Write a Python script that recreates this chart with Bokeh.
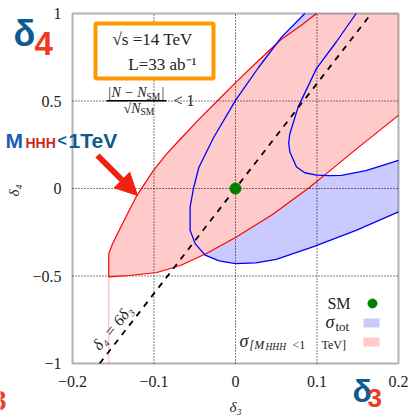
import math
from bokeh.plotting import figure
from bokeh.models import Label, BoxAnnotation, Arrow, NormalHead, Range1d, ColumnDataSource
from bokeh.core.properties import value
from bokeh.embed import file_html
from bokeh.resources import INLINE

# ---------------- data ----------------
X_MIN, X_MAX = -0.2, 0.2
Y_MIN, Y_MAX = -1.0, 1.0
x_ticks = [-0.2, -0.1, 0.0, 0.1, 0.2]
x_tick_labels = ["\u22120.2", "\u22120.1", "0", "0.1", "0.2"]
y_ticks = [-1.0, -0.5, 0.0, 0.5, 1.0]
y_tick_labels = ["\u22121", "\u22120.5", "0", "0.5", "1"]
grid_x = [-0.1, 0.0, 0.1]
grid_y = [-0.5, 0.0, 0.5]

# sigma[M_HHH < 1 TeV] band (red)
red_upper_d3 = [-0.1555, -0.1555, -0.151, -0.143, -0.132, -0.1209, -0.1006, -0.085,
                -0.0675, -0.045, -0.0224, 0.0, 0.028, 0.0555, 0.08, 0.0993]
red_upper_d4 = [-0.505, -0.372, -0.317, -0.241, -0.14, -0.039, 0.104, 0.195,
                0.283, 0.395, 0.5, 0.605, 0.73, 0.85, 0.93, 1.0]
red_lower_d3 = [-0.1555, -0.13, -0.0964, -0.0675, -0.035, 0.0, 0.045, 0.089, 0.1116, 0.15, 0.2]
red_lower_d4 = [-0.505, -0.497, -0.480, -0.44, -0.37, -0.28, -0.15, 0.0, 0.085, 0.232, 0.418]

# sigma_tot band (blue)
blue_outer_d3 = [0.085, 0.0565, 0.028, 0.0, -0.027, -0.045, -0.0516, -0.0557, -0.0557,
                 -0.0495, -0.0373, -0.02, 0.0, 0.025, 0.05, 0.095, 0.148, 0.2]
blue_outer_d4 = [1.0, 0.865, 0.69, 0.504, 0.29, 0.12, 0.0, -0.106, -0.239,
                 -0.315, -0.381, -0.414, -0.429, -0.425, -0.405, -0.334, -0.239, -0.134]
blue_inner_d3 = [0.148, 0.124, 0.0993, 0.0768, 0.0667, 0.0652, 0.0667, 0.0749, 0.085,
                 0.0993, 0.115, 0.13, 0.16, 0.2]
blue_inner_d4 = [1.0, 0.84, 0.685, 0.465, 0.313, 0.26, 0.208, 0.123, 0.09,
                 0.077, 0.073, 0.075, 0.102, 0.161]

sm_d3 = [0.0]
sm_d4 = [0.0]
line_slope = 6.0  # delta4 = 6 delta3

# ---------------- layout ----------------
W, H = 410, 417
# plot box inside the canvas (canvas pixels)
BOX_L, BOX_R, BOX_T, BOX_B = 72, 398, 13, 363
PX_PER_X = (BOX_R - BOX_L) / (X_MAX - X_MIN)
PX_PER_Y = (BOX_B - BOX_T) / (Y_MAX - Y_MIN)

x_lo = X_MIN - BOX_L / PX_PER_X
x_hi = X_MAX + (W - BOX_R) / PX_PER_X
y_hi = Y_MAX + BOX_T / PX_PER_Y
y_lo = Y_MIN - (H - BOX_B) / PX_PER_Y


def dx(xr):  # canvas pixel -> delta3
    return X_MIN + (xr - BOX_L) / PX_PER_X


def dy(yr):  # canvas pixel -> delta4
    return Y_MAX - (yr - BOX_T) / PX_PER_Y


SERIF = "Liberation Serif"
SANS = "Liberation Sans"
TXT = "#222222"

p = figure(width=W, height=H, x_range=Range1d(x_lo, x_hi), y_range=Range1d(y_lo, y_hi),
           x_axis_type=None, y_axis_type=None, output_backend="svg", toolbar_location=None,
           min_border=0)
p.background_fill_color = "white"
p.border_fill_color = "white"
p.outline_line_color = None

# fills
blue_x = blue_outer_d3 + blue_inner_d3[::-1]
blue_y = blue_outer_d4 + blue_inner_d4[::-1]
p.patch(blue_x, blue_y, fill_color="#cacaff", line_color=None)
red_x = red_upper_d3 + [X_MAX] + red_lower_d3[::-1]
red_y = red_upper_d4 + [Y_MAX] + red_lower_d4[::-1]
p.patch(red_x, red_y, fill_color="#ffcaca", line_color=None)

# dotted grid
p.segment(x0=grid_x, y0=[Y_MIN] * len(grid_x), x1=grid_x, y1=[Y_MAX] * len(grid_x),
          line_color="black", line_width=1, line_dash="1 2")
p.segment(x0=[X_MIN] * len(grid_y), y0=grid_y, x1=[X_MAX] * len(grid_y), y1=grid_y,
          line_color="black", line_width=1, line_dash="1 2")

# faint pink edge below the band
p.line([red_upper_d3[0], red_upper_d3[0]], [Y_MIN, red_upper_d4[0]], line_color="#ffb4b4",
       line_width=1)

# boundaries
p.line(red_upper_d3, red_upper_d4, line_color="#ff0000", line_width=1.2)
p.line(red_lower_d3, red_lower_d4, line_color="#ff0000", line_width=1.2)
p.line(blue_outer_d3, blue_outer_d4, line_color="#0000ff", line_width=1.3)
p.line(blue_inner_d3, blue_inner_d4, line_color="#0000ff", line_width=1.3)

# delta4 = 6 delta3
p.line([Y_MIN / line_slope, Y_MAX / line_slope], [Y_MIN, Y_MAX], line_color="black",
       line_width=1.8, line_dash="6 6")

# SM point
p.scatter(sm_d3, sm_d4, size=11, color="#008000")

# tick labels
xsrc = ColumnDataSource(dict(x=x_ticks, y=[dy(381)] * len(x_ticks), t=x_tick_labels))
p.text(x="x", y="y", text="t", source=xsrc, text_font=value(SERIF),
       text_font_size=value("16px"), text_color=TXT, text_align=value("center"),
       text_baseline=value("middle"))
ysrc = ColumnDataSource(dict(x=[dx(61)] * len(y_ticks), y=y_ticks, t=y_tick_labels))
p.text(x="x", y="y", text="t", source=ysrc, text_font=value(SERIF),
       text_font_size=value("16px"), text_color=TXT, text_align=value("right"),
       text_baseline=value("middle"))

# plot frame
p.add_layout(BoxAnnotation(left=X_MIN, right=X_MAX, bottom=Y_MIN, top=Y_MAX,
                           fill_alpha=0.0, line_color="black", line_width=2))


def lab(text, xr, yr, size, color=TXT, font=SERIF, style="normal", align="left",
        angle=0.0):
    p.add_layout(Label(x=dx(xr), y=dy(yr), text=text, text_font=font,
                       text_font_size=f"{size}px", text_font_style=style, text_color=color,
                       text_align=align, text_baseline="middle", angle=angle))


# orange info box
p.add_layout(BoxAnnotation(left=dx(95), right=dx(213), top=dy(23), bottom=dy(78),
                           fill_color="white", fill_alpha=1.0, line_color="#ff9900",
                           line_width=4, line_alpha=1.0))
lab("\u221as =14 TeV", 152, 39, 17, align="center")
lab("L=33 ab\u207b\u00b9", 162, 64, 17, align="center")

# fraction |N-N_SM|/sqrt(N_SM) < 1
lab("|N \u2212 N", 146, 92, 14, style="italic", align="right")
lab("SM", 146, 96, 9.5)
lab("|", 161, 92, 14)
p.add_layout(BoxAnnotation(left=dx(106), right=dx(166), top=dy(99.6), bottom=dy(101.0),
                           fill_color="black", fill_alpha=1.0, line_color=None))
lab("\u221aN", 140, 108, 14, style="italic", align="right")
lab("SM", 140, 111, 9.5)
lab("< 1", 173, 100, 16)

# line label
lab("\u03b4\u2084 = 6\u03b4\u2083", 112, 327, 16, style="italic", align="center",
    angle=math.radians(50))

# legend
lab("SM", 350, 302.5, 16, align="right")
p.scatter([dx(372)], [dy(303)], size=9, color="#008000")
lab("\u03c3", 334, 321, 18, style="italic", align="right")
lab("tot", 335, 325.5, 13)
p.add_layout(BoxAnnotation(left=dx(363), right=dx(379), top=dy(318), bottom=dy(327),
                           fill_color="#cacaff", fill_alpha=1.0, line_color=None))
lab("\u03c3", 248, 340, 18, style="italic", align="right")
lab("[M", 249, 344, 12, style="italic")
lab("HHH", 265, 346.5, 9.5, style="italic")
lab("<1", 292, 344, 12)
lab("TeV]", 321, 344, 12)
p.add_layout(BoxAnnotation(left=dx(363), right=dx(379), top=dy(337), bottom=dy(346),
                           fill_color="#ffcaca", fill_alpha=1.0, line_color=None))

# axis titles
lab("\u03b4\u2084", 13, 190, 15, style="italic", align="center", angle=math.pi / 2)
lab("\u03b4\u2083", 235, 406, 15, style="italic", align="center")

# decorations
BLUE_D = "#0e5b8f"
RED_D = "#f03a22"
lab("\u03b4", 13, 33, 36, color=BLUE_D, font=SANS, style="bold")
lab("4", 34, 42.5, 33, color=RED_D, font=SANS, style="bold")
lab("M", 5, 139.5, 21, color="#1b5db5", font=SANS, style="bold")
lab("HHH", 25, 142, 14, color="#c8281e", font=SANS, style="bold")
lab("<", 57, 140, 16, color=BLUE_D, font=SANS, style="bold")
lab("1TeV", 68, 139.5, 21, color=BLUE_D, font=SANS, style="bold")
p.add_layout(Arrow(end=NormalHead(size=22, fill_color="#ee2211", line_color="#ee2211"),
                   x_start=dx(97), y_start=dy(155), x_end=dx(137), y_end=dy(195),
                   line_color="#ee2211", line_width=6))
lab("\u03b4", 352, 390.5, 32, color=BLUE_D, font=SANS, style="bold")
lab("3", 367, 397.5, 26, color=RED_D, font=SANS, style="bold")
lab("3", -9, 400, 27, color=RED_D, font=SANS, style="bold")

open("out.html", "w").write(file_html(p, INLINE))
